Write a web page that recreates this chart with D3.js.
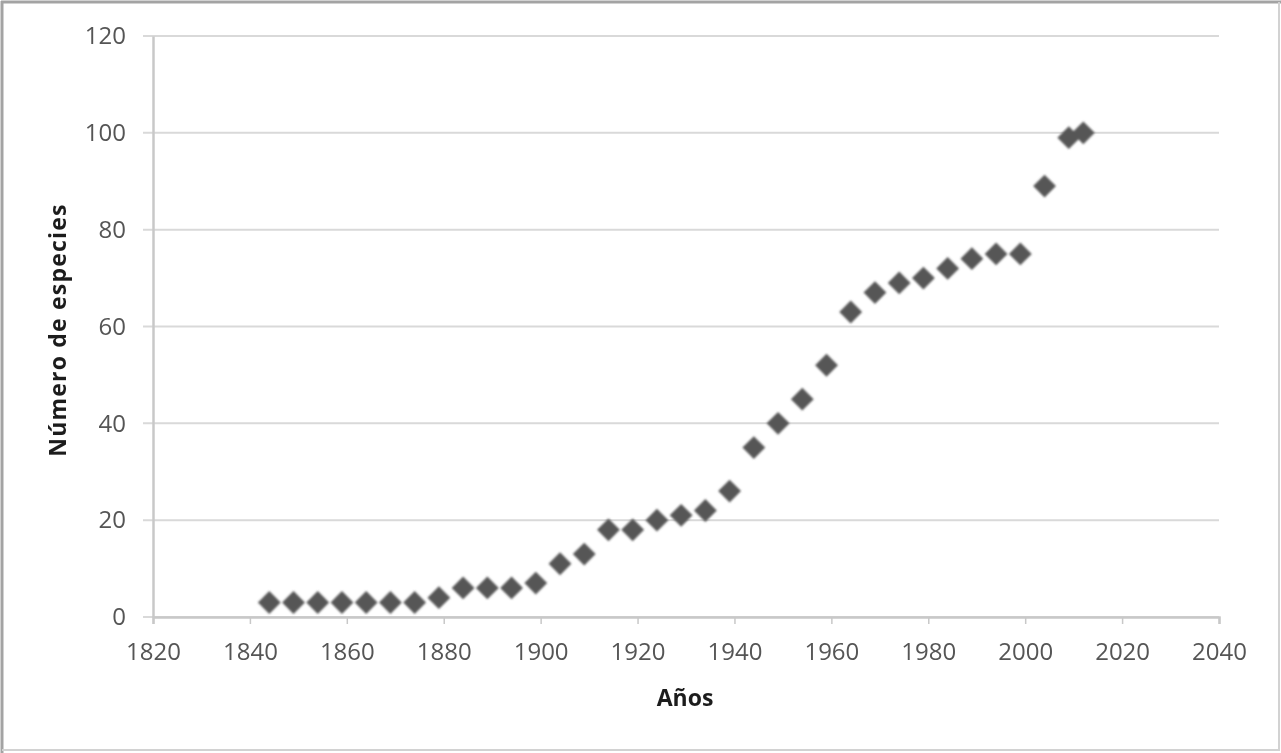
<!DOCTYPE html>
<html>
<head>
<meta charset="utf-8">
<script src="https://cdn.jsdelivr.net/npm/d3@7"></script>
<style>
  html, body { margin: 0; padding: 0; background: #fff; }
  svg { display: block; }
  .tick text { font-family: "Open Sans", "Liberation Sans", sans-serif; font-size: 24px; fill: #555; }
  .axis-title { font-family: "Open Sans", "Liberation Sans", sans-serif; font-size: 23px; font-weight: bold; fill: #1e1e1e; }
</style>
</head>
<body>
<svg id="chart" width="1281" height="753"></svg>
<script>
// Data
const years = [1844, 1849, 1854, 1859, 1864, 1869, 1874, 1879, 1884, 1889, 1894, 1899,
               1904, 1909, 1914, 1919, 1924, 1929, 1934, 1939, 1944, 1949, 1954, 1959,
               1964, 1969, 1974, 1979, 1984, 1989, 1994, 1999, 2004, 2009, 2012];
const species = [3, 3, 3, 3, 3, 3, 3, 4, 6, 6, 6, 7,
                 11, 13, 18, 18, 20, 21, 22, 26, 35, 40, 45, 52,
                 63, 67, 69, 70, 72, 74, 75, 75, 89, 99, 100];
const xTicks = [1820, 1840, 1860, 1880, 1900, 1920, 1940, 1960, 1980, 2000, 2020, 2040];
const yTicks = [0, 20, 40, 60, 80, 100, 120];

const svg = d3.select("#chart");

// soft edge like the source image
const defs = svg.append("defs");
defs.append("filter").attr("id", "soft")
  .append("feGaussianBlur").attr("stdDeviation", 0.8);
defs.append("filter").attr("id", "softText")
  .append("feGaussianBlur").attr("stdDeviation", 0.45);

// outer frame (darker on top/left, lighter on right/bottom like the source)
svg.append("line").attr("x1", 1).attr("x2", 1281).attr("y1", 2).attr("y2", 2)
  .attr("stroke", "#a3a3a3").attr("stroke-width", 3);
svg.append("line").attr("x1", 2).attr("x2", 2).attr("y1", 1).attr("y2", 753)
  .attr("stroke", "#a3a3a3").attr("stroke-width", 3);
svg.append("line").attr("x1", 1279).attr("x2", 1279).attr("y1", 2).attr("y2", 751)
  .attr("stroke", "#d2d2d2").attr("stroke-width", 2);
svg.append("line").attr("x1", 2).attr("x2", 1280).attr("y1", 750).attr("y2", 750)
  .attr("stroke", "#d2d2d2").attr("stroke-width", 2);

const x = d3.scaleLinear().domain([1820, 2040]).range([153, 1219]);
const y = d3.scaleLinear().domain([0, 120]).range([617, 36]);

// horizontal gridlines
svg.append("g")
  .selectAll("line")
  .data(yTicks)
  .join("line")
  .attr("x1", 143).attr("x2", x(2040))
  .attr("y1", d => y(d)).attr("y2", d => y(d))
  .attr("stroke", "#d9d9d9").attr("stroke-width", 2);

// y axis
const yAxis = svg.append("g")
  .attr("transform", `translate(${x(1820)},0)`)
  .call(d3.axisLeft(y).tickValues(yTicks).tickSize(0).tickPadding(27));
yAxis.select(".domain").attr("stroke", "#c8c8c8").attr("stroke-width", 2.5);
yAxis.selectAll("text").attr("filter", "url(#softText)");

// x axis
const xAxis = svg.append("g")
  .attr("transform", `translate(0,${y(0)})`)
  .call(d3.axisBottom(x).tickValues(xTicks).tickFormat(d3.format("d")).tickSize(7).tickPadding(19));
xAxis.select(".domain").attr("stroke", "#c8c8c8").attr("stroke-width", 2.5);
xAxis.selectAll(".tick line").attr("stroke", "#c8c8c8").attr("stroke-width", 1.5);
xAxis.selectAll("text").attr("filter", "url(#softText)");

// diamond markers
const diamond = d3.symbol().type(d3.symbolSquare).size(260);
svg.append("g")
  .attr("filter", "url(#soft)")
  .selectAll("path")
  .data(years.map((yr, i) => ({ yr, v: species[i] })))
  .join("path")
  .attr("d", diamond)
  .attr("transform", d => `translate(${x(d.yr)},${y(d.v)}) rotate(45)`)
  .attr("fill", "#575757");

// axis titles
svg.append("text")
  .attr("class", "axis-title")
  .attr("x", 685).attr("y", 706)
  .attr("text-anchor", "middle")
  .attr("filter", "url(#softText)")
  .text("Años");

svg.append("text")
  .attr("class", "axis-title")
  .attr("transform", "translate(66,330) rotate(-90)")
  .attr("text-anchor", "middle")
  .attr("letter-spacing", 1.2)
  .attr("filter", "url(#softText)")
  .text("Número de especies");
</script>
</body>
</html>
